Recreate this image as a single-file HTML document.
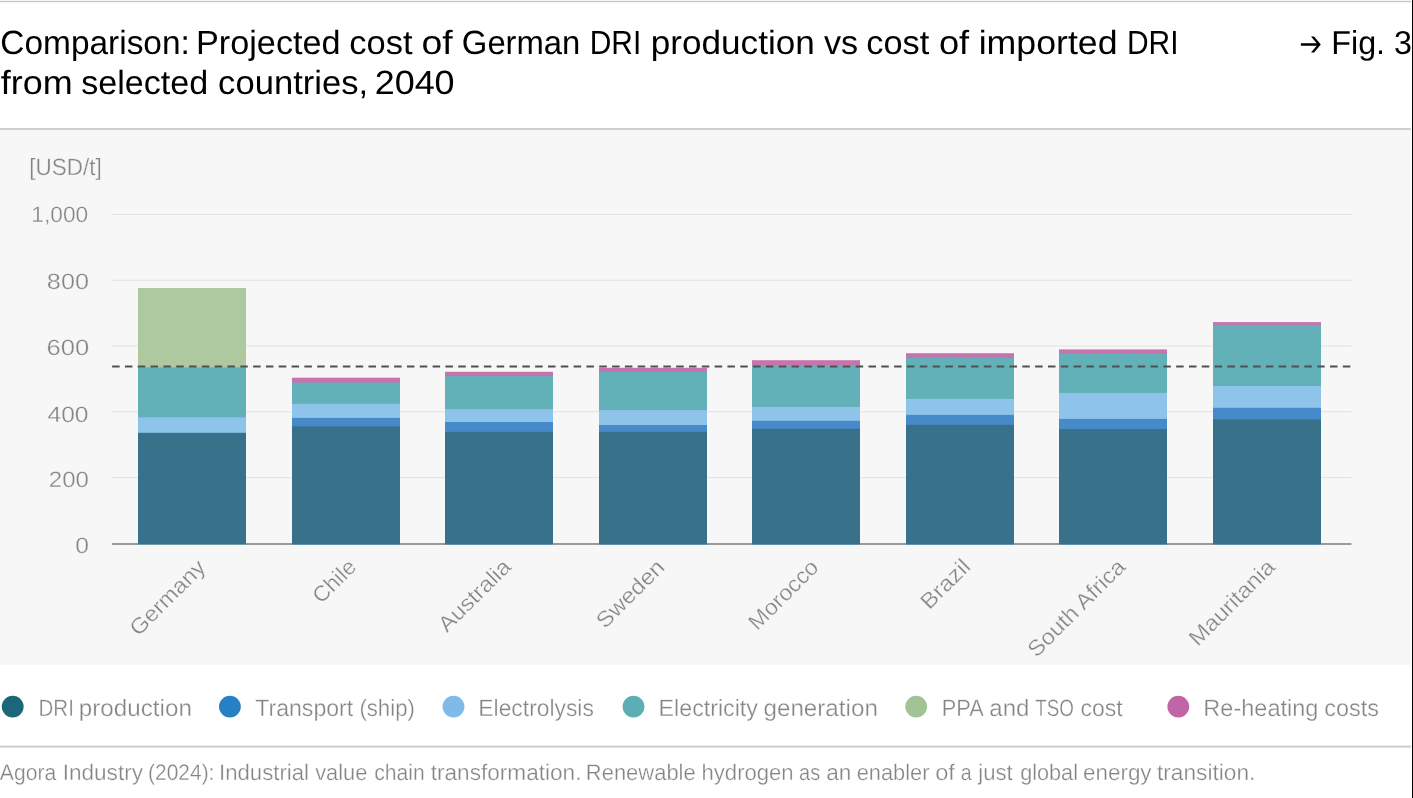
<!DOCTYPE html>
<html><head><meta charset="utf-8"><style>
html,body{margin:0;padding:0;}
body{width:1413px;height:798px;overflow:hidden;background:#fff;position:relative;font-family:"Liberation Sans",sans-serif;}
.abs{position:absolute;}
svg{position:absolute;left:0;top:0;will-change:transform;text-rendering:geometricPrecision;}
text{font-family:"Liberation Sans",sans-serif;}
.xl{font-size:22px;fill:#858585;}
</style></head><body>
<div class="abs" style="left:0;top:0;width:1411px;height:1px;background:#f4f4f4"></div>
<div class="abs" style="left:0;top:1px;width:1411px;height:1px;background:#c7c7c7"></div>
<div class="abs" style="left:0;top:2px;width:1411px;height:1px;background:#f3f3f3"></div>
<div class="abs" style="left:0;top:128px;width:1411px;height:2px;background:#d0d0d0"></div>
<div class="abs" style="left:0;top:130px;width:1411px;height:535px;background:#f7f7f7"></div>
<div class="abs" style="left:1412px;top:0;width:1px;height:798px;background:#000"></div>
<svg width="1413" height="798" viewBox="0 0 1413 798">
<rect x="0" y="745.6" width="1411" height="2" fill="#cdcdcd"/>
<path d="M1300.9 43.35 H1318.5 V45.65 H1300.9 Z M1311.0 36.4 H1314.1 L1320.8 44.5 L1314.1 52.6 H1311.0 L1317.7 44.5 Z" fill="#000"/>
<rect x="112" y="214.0" width="1239.5" height="1" fill="#e2e2e2"/>
<rect x="112" y="279.8" width="1239.5" height="1" fill="#e2e2e2"/>
<rect x="112" y="345.5" width="1239.5" height="1" fill="#e2e2e2"/>
<rect x="112" y="411.2" width="1239.5" height="1" fill="#e2e2e2"/>
<rect x="112" y="477.1" width="1239.5" height="1" fill="#e2e2e2"/>
<rect x="112" y="543" width="1239.5" height="2" fill="#9a9a9a"/>
<rect x="138" y="288.0" width="108" height="256.30" fill="#aec8a0"/>
<rect x="138" y="367.4" width="108" height="176.90" fill="#62b0b8"/>
<rect x="138" y="417.3" width="108" height="127.00" fill="#8ec3ea"/>
<rect x="138" y="432.8" width="108" height="111.50" fill="#37718a"/>
<rect x="292" y="377.7" width="108" height="166.60" fill="#c774ae"/>
<rect x="292" y="382.6" width="108" height="161.70" fill="#62b0b8"/>
<rect x="292" y="403.8" width="108" height="140.50" fill="#8ec3ea"/>
<rect x="292" y="417.9" width="108" height="126.40" fill="#468aca"/>
<rect x="292" y="426.4" width="108" height="117.90" fill="#37718a"/>
<rect x="445" y="371.8" width="108" height="172.50" fill="#c774ae"/>
<rect x="445" y="376.1" width="108" height="168.20" fill="#62b0b8"/>
<rect x="445" y="409.2" width="108" height="135.10" fill="#8ec3ea"/>
<rect x="445" y="422.0" width="108" height="122.30" fill="#468aca"/>
<rect x="445" y="431.9" width="108" height="112.40" fill="#37718a"/>
<rect x="599" y="367.8" width="108" height="176.50" fill="#c774ae"/>
<rect x="599" y="371.8" width="108" height="172.50" fill="#62b0b8"/>
<rect x="599" y="410.1" width="108" height="134.20" fill="#8ec3ea"/>
<rect x="599" y="425.0" width="108" height="119.30" fill="#468aca"/>
<rect x="599" y="431.9" width="108" height="112.40" fill="#37718a"/>
<rect x="752" y="360.2" width="108" height="184.10" fill="#c774ae"/>
<rect x="752" y="365.2" width="108" height="179.10" fill="#62b0b8"/>
<rect x="752" y="407.0" width="108" height="137.30" fill="#8ec3ea"/>
<rect x="752" y="420.8" width="108" height="123.50" fill="#468aca"/>
<rect x="752" y="428.9" width="108" height="115.40" fill="#37718a"/>
<rect x="906" y="353.2" width="108" height="191.10" fill="#c774ae"/>
<rect x="906" y="358.0" width="108" height="186.30" fill="#62b0b8"/>
<rect x="906" y="398.9" width="108" height="145.40" fill="#8ec3ea"/>
<rect x="906" y="414.9" width="108" height="129.40" fill="#468aca"/>
<rect x="906" y="424.8" width="108" height="119.50" fill="#37718a"/>
<rect x="1059" y="349.4" width="108" height="194.90" fill="#c774ae"/>
<rect x="1059" y="353.5" width="108" height="190.80" fill="#62b0b8"/>
<rect x="1059" y="392.9" width="108" height="151.40" fill="#8ec3ea"/>
<rect x="1059" y="418.9" width="108" height="125.40" fill="#468aca"/>
<rect x="1059" y="429.0" width="108" height="115.30" fill="#37718a"/>
<rect x="1213" y="322.1" width="108" height="222.20" fill="#c774ae"/>
<rect x="1213" y="324.9" width="108" height="219.40" fill="#62b0b8"/>
<rect x="1213" y="386.0" width="108" height="158.30" fill="#8ec3ea"/>
<rect x="1213" y="407.8" width="108" height="136.50" fill="#468aca"/>
<rect x="1213" y="419.3" width="108" height="125.00" fill="#37718a"/>
<line x1="112.1" y1="366.5" x2="1351" y2="366.5" stroke="#505050" stroke-width="1.85" stroke-dasharray="7.5 5.32"/>
<text style="font-size:33.5px;fill:#000;" transform="translate(0.33,54.20) scale(0.9978,1)">Comparison:</text>
<text style="font-size:33.5px;fill:#000;" transform="translate(196.03,54.20) scale(1.0210,1)">Projected</text>
<text style="font-size:33.5px;fill:#000;" transform="translate(349.21,54.20) scale(1.0301,1)">cost</text>
<text style="font-size:33.5px;fill:#000;" transform="translate(421.50,54.20) scale(1.1169,1)">of</text>
<text style="font-size:33.5px;fill:#000;" transform="translate(461.86,54.20) scale(0.9792,1)">German</text>
<text style="font-size:33.5px;fill:#000;" transform="translate(589.74,54.20) scale(0.8925,1)">DRI</text>
<text style="font-size:33.5px;fill:#000;" transform="translate(650.70,54.20) scale(1.0488,1)">production</text>
<text style="font-size:33.5px;fill:#000;" transform="translate(823.88,54.20) scale(1.0207,1)">vs</text>
<text style="font-size:33.5px;fill:#000;" transform="translate(866.30,54.20) scale(1.0252,1)">cost</text>
<text style="font-size:33.5px;fill:#000;" transform="translate(938.93,54.20) scale(1.0810,1)">of</text>
<text style="font-size:33.5px;fill:#000;" transform="translate(978.66,54.20) scale(1.0653,1)">imported</text>
<text style="font-size:33.5px;fill:#000;" transform="translate(1126.95,54.20) scale(0.8937,1)">DRI</text>
<text style="font-size:33.5px;fill:#000;" transform="translate(0.69,93.60) scale(1.0728,1)">from</text>
<text style="font-size:33.5px;fill:#000;" transform="translate(81.25,93.60) scale(1.0176,1)">selected</text>
<text style="font-size:33.5px;fill:#000;" transform="translate(218.11,93.60) scale(1.0327,1)">countries,</text>
<text style="font-size:33.5px;fill:#000;" transform="translate(374.71,93.60) scale(1.0719,1)">2040</text>
<text style="font-size:33px;fill:#000;" transform="translate(1331.26,53.90) scale(0.9784,1)">Fig. 3</text>
<text style="font-size:23.6px;fill:#858585;stroke:#f7f7f7;stroke-width:0.3px" transform="translate(29.36,174.90) scale(0.9525,1)">[USD/t]</text>
<text style="font-size:22.2px;fill:#858585;stroke:#f7f7f7;stroke-width:0.3px" transform="translate(31.35,221.60) scale(1.0230,1)">1,000</text>
<text style="font-size:22.2px;fill:#858585;stroke:#f7f7f7;stroke-width:0.3px" transform="translate(46.86,289.30) scale(1.1375,1)">800</text>
<text style="font-size:22.2px;fill:#858585;stroke:#f7f7f7;stroke-width:0.3px" transform="translate(46.61,354.80) scale(1.1550,1)">600</text>
<text style="font-size:22.2px;fill:#858585;stroke:#f7f7f7;stroke-width:0.3px" transform="translate(47.52,421.80) scale(1.1079,1)">400</text>
<text style="font-size:22.2px;fill:#858585;stroke:#f7f7f7;stroke-width:0.3px" transform="translate(48.81,486.90) scale(1.0828,1)">200</text>
<text style="font-size:22.2px;fill:#858585;stroke:#f7f7f7;stroke-width:0.3px" transform="translate(75.21,552.60) scale(1.1136,1)">0</text>
<text style="font-size:23.6px;fill:#858585;stroke:#ffffff;stroke-width:0.3px" transform="translate(38.52,716.00) scale(0.8698,1)">DRI</text>
<text style="font-size:23.6px;fill:#858585;stroke:#ffffff;stroke-width:0.3px" transform="translate(78.85,716.00) scale(1.0256,1)">production</text>
<text style="font-size:23.6px;fill:#858585;stroke:#ffffff;stroke-width:0.3px" transform="translate(255.30,716.00) scale(0.9774,1)">Transport</text>
<text style="font-size:23.6px;fill:#858585;stroke:#ffffff;stroke-width:0.3px" transform="translate(359.38,716.00) scale(0.9406,1)">(ship)</text>
<text style="font-size:23.6px;fill:#858585;stroke:#ffffff;stroke-width:0.3px" transform="translate(478.36,716.00) scale(0.9681,1)">Electrolysis</text>
<text style="font-size:23.6px;fill:#858585;stroke:#ffffff;stroke-width:0.3px" transform="translate(658.62,716.00) scale(0.9835,1)">Electricity</text>
<text style="font-size:23.6px;fill:#858585;stroke:#ffffff;stroke-width:0.3px" transform="translate(763.46,716.00) scale(1.0258,1)">generation</text>
<text style="font-size:23.6px;fill:#858585;stroke:#ffffff;stroke-width:0.3px" transform="translate(941.85,716.00) scale(0.9195,1)">PPA</text>
<text style="font-size:23.6px;fill:#858585;stroke:#ffffff;stroke-width:0.3px" transform="translate(989.28,716.00) scale(1.0184,1)">and</text>
<text style="font-size:23.6px;fill:#858585;stroke:#ffffff;stroke-width:0.3px" transform="translate(1035.19,716.00) scale(0.7967,1)">TSO</text>
<text style="font-size:23.6px;fill:#858585;stroke:#ffffff;stroke-width:0.3px" transform="translate(1080.49,716.00) scale(0.9750,1)">cost</text>
<text style="font-size:23.6px;fill:#858585;stroke:#ffffff;stroke-width:0.3px" transform="translate(1203.29,716.00) scale(0.9975,1)">Re-heating</text>
<text style="font-size:23.6px;fill:#858585;stroke:#ffffff;stroke-width:0.3px" transform="translate(1324.30,716.00) scale(0.9934,1)">costs</text>
<text style="font-size:22.5px;fill:#858585;stroke:#ffffff;stroke-width:0.3px" transform="translate(-0.13,779.80) scale(0.9386,1)">Agora</text>
<text style="font-size:22.5px;fill:#858585;stroke:#ffffff;stroke-width:0.3px" transform="translate(62.67,779.80) scale(1.0032,1)">Industry</text>
<text style="font-size:22.5px;fill:#858585;stroke:#ffffff;stroke-width:0.3px" transform="translate(148.09,779.80) scale(0.9305,1)">(2024):</text>
<text style="font-size:22.5px;fill:#858585;stroke:#ffffff;stroke-width:0.3px" transform="translate(219.03,779.80) scale(0.9853,1)">Industrial</text>
<text style="font-size:22.5px;fill:#858585;stroke:#ffffff;stroke-width:0.3px" transform="translate(315.19,779.80) scale(0.9708,1)">value</text>
<text style="font-size:22.5px;fill:#858585;stroke:#ffffff;stroke-width:0.3px" transform="translate(374.16,779.80) scale(0.9385,1)">chain</text>
<text style="font-size:22.5px;fill:#858585;stroke:#ffffff;stroke-width:0.3px" transform="translate(430.69,779.80) scale(1.0047,1)">transformation.</text>
<text style="font-size:22.5px;fill:#858585;stroke:#ffffff;stroke-width:0.3px" transform="translate(585.84,779.80) scale(0.9758,1)">Renewable</text>
<text style="font-size:22.5px;fill:#858585;stroke:#ffffff;stroke-width:0.3px" transform="translate(701.53,779.80) scale(0.9813,1)">hydrogen</text>
<text style="font-size:22.5px;fill:#858585;stroke:#ffffff;stroke-width:0.3px" transform="translate(799.06,779.80) scale(0.8896,1)">as</text>
<text style="font-size:22.5px;fill:#858585;stroke:#ffffff;stroke-width:0.3px" transform="translate(826.14,779.80) scale(1.0074,1)">an</text>
<text style="font-size:22.5px;fill:#858585;stroke:#ffffff;stroke-width:0.3px" transform="translate(856.71,779.80) scale(0.9697,1)">enabler</text>
<text style="font-size:22.5px;fill:#858585;stroke:#ffffff;stroke-width:0.3px" transform="translate(935.19,779.80) scale(1.0510,1)">of</text>
<text style="font-size:22.5px;fill:#858585;stroke:#ffffff;stroke-width:0.3px" transform="translate(960.87,779.80) scale(0.8709,1)">a</text>
<text style="font-size:22.5px;fill:#858585;stroke:#ffffff;stroke-width:0.3px" transform="translate(978.27,779.80) scale(0.9856,1)">just</text>
<text style="font-size:22.5px;fill:#858585;stroke:#ffffff;stroke-width:0.3px" transform="translate(1020.13,779.80) scale(0.9629,1)">global</text>
<text style="font-size:22.5px;fill:#858585;stroke:#ffffff;stroke-width:0.3px" transform="translate(1082.99,779.80) scale(0.9968,1)">energy</text>
<text style="font-size:22.5px;fill:#858585;stroke:#ffffff;stroke-width:0.3px" transform="translate(1157.00,779.80) scale(1.0086,1)">transition.</text>
<text class="xl" style="stroke:#f7f7f7;stroke-width:0.3px" text-anchor="end" transform="translate(206.80,568.55) rotate(-45) scale(1.0693,1)">Germany</text>
<text class="xl" style="stroke:#f7f7f7;stroke-width:0.3px" text-anchor="end" transform="translate(357.55,568.25) rotate(-45) scale(1.0239,1)">Chile</text>
<text class="xl" style="stroke:#f7f7f7;stroke-width:0.3px" text-anchor="end" transform="translate(512.25,568.10) rotate(-45) scale(1.0773,1)">Australia</text>
<text class="xl" style="stroke:#f7f7f7;stroke-width:0.3px" text-anchor="end" transform="translate(665.90,568.55) rotate(-45) scale(1.0841,1)">Sweden</text>
<text class="xl" style="stroke:#f7f7f7;stroke-width:0.3px" text-anchor="end" transform="translate(819.90,568.60) rotate(-45) scale(1.0493,1)">Morocco</text>
<text class="xl" style="stroke:#f7f7f7;stroke-width:0.3px" text-anchor="end" transform="translate(971.70,567.90) rotate(-45) scale(1.0926,1)">Brazil</text>
<text class="xl" style="stroke:#f7f7f7;stroke-width:0.3px" text-anchor="end" transform="translate(1126.70,568.15) rotate(-45) scale(1.0743,1)">South Africa</text>
<text class="xl" style="stroke:#f7f7f7;stroke-width:0.3px" text-anchor="end" transform="translate(1276.30,568.40) rotate(-45) scale(1.0808,1)">Mauritania</text>
<circle cx="12.7" cy="706.6" r="10.9" fill="#1b6679"/>
<circle cx="229.9" cy="706.6" r="10.9" fill="#2581c4"/>
<circle cx="453.5" cy="706.6" r="10.9" fill="#7fbae8"/>
<circle cx="633.5" cy="706.6" r="10.9" fill="#5baeb3"/>
<circle cx="916.2" cy="706.6" r="10.9" fill="#a1c395"/>
<circle cx="1178.3" cy="706.6" r="10.9" fill="#c066a6"/>
</svg>
</body></html>
